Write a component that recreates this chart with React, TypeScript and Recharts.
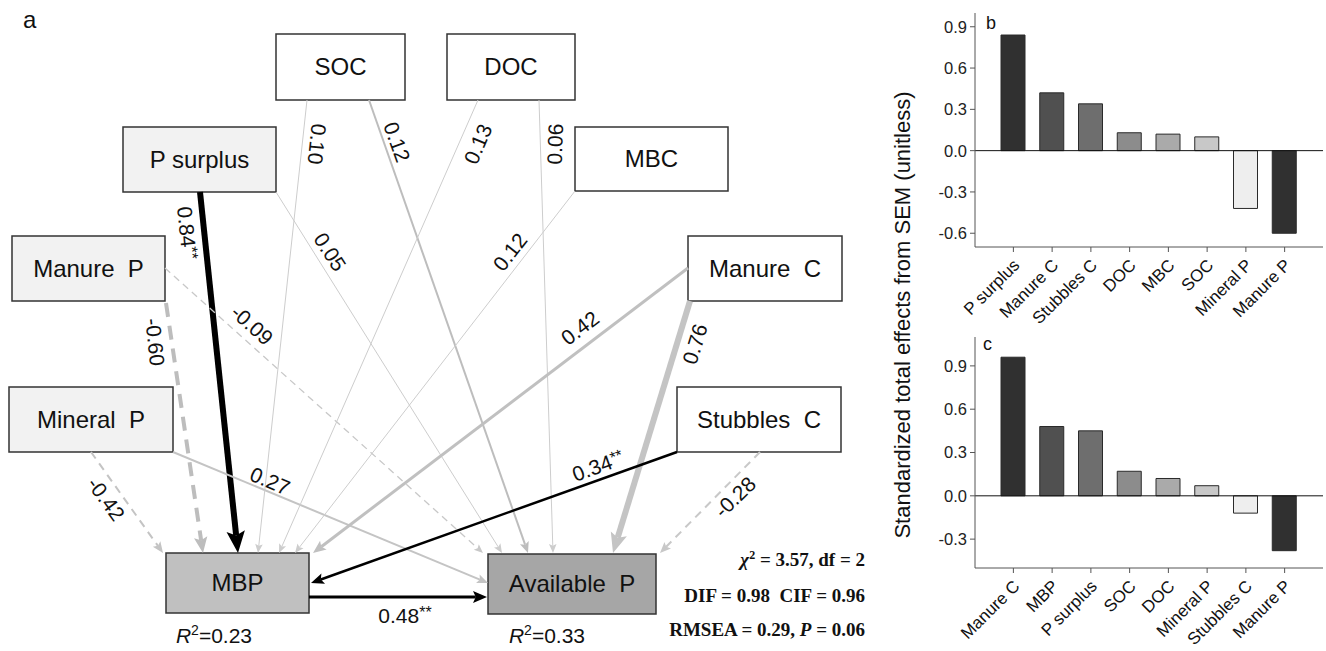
import React from 'react'
import {
  ScatterChart, Scatter, XAxis, YAxis, ReferenceArea, ReferenceLine,
  BarChart, Bar, Cell,
} from 'recharts'

const SANS = '"Liberation Sans", Arial, sans-serif'
const SERIF = '"Liberation Serif", "Times New Roman", serif'

// ---- panel a: path model ----
const nodeNames = ['SOC', 'DOC', 'P surplus', 'MBC', 'Manure P', 'Manure C', 'Mineral P', 'Stubbles C', 'MBP', 'Available P']

const pathFrom = ['P surplus', 'Manure P', 'Mineral P', 'Mineral P', 'Manure P', 'P surplus', 'SOC', 'SOC', 'DOC', 'DOC', 'MBC', 'Manure C', 'Manure C', 'Stubbles C', 'Stubbles C', 'MBP']
const pathTo = ['MBP', 'MBP', 'MBP', 'Available P', 'Available P', 'Available P', 'MBP', 'Available P', 'MBP', 'Available P', 'MBP', 'MBP', 'Available P', 'MBP', 'Available P', 'Available P']
const pathCoef = ['0.84**', '-0.60', '-0.42', '0.27', '-0.09', '0.05', '0.10', '0.12', '0.13', '0.06', '0.12', '0.42', '0.76', '0.34**', '-0.28', '0.48**']

const rSquared = ['0.23', '0.33'] // MBP, Available P
const fitStats = { chi2: '3.57', df: '2', dif: '0.98', cif: '0.96', rmsea: '0.29', p: '0.06' }

// ---- panels b and c: total effects ----
const mbpCategories = ['P surplus', 'Manure C', 'Stubbles C', 'DOC', 'MBC', 'SOC', 'Mineral P', 'Manure P']
const mbpEffects = [0.84, 0.42, 0.34, 0.13, 0.12, 0.1, -0.42, -0.6]
const mbpTicks = [-0.6, -0.3, 0, 0.3, 0.6, 0.9]

const availCategories = ['Manure C', 'MBP', 'P surplus', 'SOC', 'DOC', 'Mineral P', 'Stubbles C', 'Manure P']
const availEffects = [0.96, 0.48, 0.45, 0.17, 0.12, 0.07, -0.12, -0.38]
const availTicks = [-0.3, 0, 0.3, 0.6, 0.9]

// ---- layout (diagram units = pixels) ----
const nodeBoxes = [
  [276, 34, 405, 100], [447, 34, 575, 100], [123, 127, 276, 192], [575, 127, 728, 191],
  [12, 236, 165, 301], [688, 236, 842, 301], [9, 387, 173, 452], [677, 387, 841, 452],
  [166, 553, 309, 613], [488, 554, 656, 614],
]
const nodeFills = ['#fff', '#fff', '#f2f2f2', '#fff', '#f2f2f2', '#fff', '#f2f2f2', '#fff', '#c0c0c0', '#a6a6a6']

const pathEnds = [
  [200, 192, 238, 553], [166, 303, 203, 553], [91, 452, 163, 553], [173, 452, 488, 583],
  [165, 268, 483, 553], [276, 192, 502, 553], [307, 100, 258, 553], [369, 100, 528, 553],
  [478, 100, 279, 553], [539, 100, 553, 553], [575, 191, 295, 553], [688, 268, 313, 553],
  [690, 301, 613, 553], [677, 452, 311, 583], [760, 452, 660, 553], [309, 597, 487, 597],
]
const pathStyles = [
  { color: '#000', width: 6, head: 22, dash: '' },
  { color: '#bdbdbd', width: 4, head: 16, dash: '14 9' },
  { color: '#c4c4c4', width: 2, head: 11, dash: '8 6' },
  { color: '#c4c4c4', width: 2, head: 11, dash: '' },
  { color: '#c8c8c8', width: 1.3, head: 9, dash: '7 5' },
  { color: '#cdcdcd', width: 1, head: 9, dash: '' },
  { color: '#cdcdcd', width: 1, head: 9, dash: '' },
  { color: '#bdbdbd', width: 2, head: 11, dash: '' },
  { color: '#cdcdcd', width: 1, head: 9, dash: '' },
  { color: '#cdcdcd', width: 1, head: 9, dash: '' },
  { color: '#cdcdcd', width: 1, head: 9, dash: '' },
  { color: '#c0c0c0', width: 3, head: 13, dash: '' },
  { color: '#c4c4c4', width: 6, head: 20, dash: '' },
  { color: '#000', width: 2.5, head: 13, dash: '' },
  { color: '#c8c8c8', width: 2, head: 11, dash: '8 6' },
  { color: '#000', width: 3, head: 14, dash: '' },
]
const coefLabelPos = [
  [187, 233, 84], [155, 342, 84], [106, 499, 54], [270, 481, 23],
  [252, 325, 42], [330, 252, 57], [317, 144, 96], [397, 142, 70],
  [478, 144, -67], [555, 144, -88], [510, 252, -52], [580, 328, -37],
  [695, 344, -73], [598, 466, -20], [735, 497, -44], [405, 616, 0],
]
const rSquaredPos = [[214, 643], [547, 643]]
const statsPos = [[865, 566], [865, 602], [865, 636]]

const barShades = ['#303030', '#505050', '#6e6e6e', '#8c8c8c', '#aaaaaa', '#c8c8c8', '#eeeeee', '#303030']

const nodeIndex = (name: string) => nodeNames.indexOf(name)

function arrowShape(i: number) {
  const s = pathStyles[i]
  return (p: any) => {
    const { x1, y1, x2, y2 } = p
    const dx = x2 - x1
    const dy = y2 - y1
    const len = Math.hypot(dx, dy) || 1
    const ux = dx / len
    const uy = dy / len
    const L = s.head
    const W = s.head * 0.42
    const bx = x2 - ux * L
    const by = y2 - uy * L
    const nx = x2 - ux * L * 0.8
    const ny = y2 - uy * L * 0.8
    const pts = `${x2},${y2} ${bx - uy * W},${by + ux * W} ${nx},${ny} ${bx + uy * W},${by - ux * W}`
    return (
      <g>
        <line x1={x1} y1={y1} x2={nx} y2={ny} stroke={s.color} strokeWidth={s.width}
          strokeDasharray={s.dash || undefined} />
        <polygon points={pts} fill={s.color} />
      </g>
    )
  }
}

const nodeLabelData = nodeNames.map((name, i) => {
  const b = nodeBoxes[i]
  return { x: (b[0] + b[2]) / 2, y: (b[1] + b[3]) / 2, name }
})

const coefLabelData = pathCoef.map((coef, i) => ({
  x: coefLabelPos[i][0], y: coefLabelPos[i][1], angle: coefLabelPos[i][2], coef,
}))

const noteData = [
  { x: rSquaredPos[0][0], y: rSquaredPos[0][1], kind: 'r2', value: rSquared[0] },
  { x: rSquaredPos[1][0], y: rSquaredPos[1][1], kind: 'r2', value: rSquared[1] },
  { x: statsPos[0][0], y: statsPos[0][1], kind: 'chi' },
  { x: statsPos[1][0], y: statsPos[1][1], kind: 'fit' },
  { x: statsPos[2][0], y: statsPos[2][1], kind: 'rmsea' },
]

// names like "Manure P" are typeset with a wider gap before the last letter
const NodeLabel = (p: any) => (
  <text x={p.cx} y={p.cy} dy="0.35em" textAnchor="middle" fontSize={24} fill="#111" fontFamily={SANS}>
    {p.payload.name.replace(/ ([A-Z])$/, '\u00a0 $1')}
  </text>
)

const CoefLabel = (p: any) => {
  const { cx, cy, payload } = p
  const stars = payload.coef.endsWith('**')
  const num = stars ? payload.coef.slice(0, -2) : payload.coef
  return (
    <text x={cx} y={cy} dy="0.35em" textAnchor="middle" fontSize={21} fill="#111" fontFamily={SANS}
      transform={`rotate(${payload.angle} ${cx} ${cy})`}>
      {num}
      {stars && <tspan fontSize={16} dy={-5}>**</tspan>}
    </text>
  )
}

const Note = (p: any) => {
  const { cx, cy, payload } = p
  if (payload.kind === 'r2') {
    return (
      <text x={cx} y={cy} textAnchor="middle" fontSize={21} fill="#111" fontFamily={SANS}>
        <tspan fontStyle="italic">R</tspan>
        <tspan fontSize={14} dy={-8}>2</tspan>
        <tspan dy={8}>={payload.value}</tspan>
      </text>
    )
  }
  const common = { x: cx, y: cy, textAnchor: 'end' as const, fontSize: 19, fontWeight: 700, fill: '#111', fontFamily: SERIF }
  if (payload.kind === 'chi') {
    return (
      <text {...common}>
        <tspan fontStyle="italic">χ</tspan>
        <tspan fontSize={12} dy={-7}>2</tspan>
        <tspan dy={7}>{` = ${fitStats.chi2}, df = ${fitStats.df}`}</tspan>
      </text>
    )
  }
  if (payload.kind === 'fit') {
    return <text {...common}>{`DIF = ${fitStats.dif}\u00a0 CIF = ${fitStats.cif}`}</text>
  }
  return (
    <text {...common}>
      {`RMSEA = ${fitStats.rmsea}, `}
      <tspan fontStyle="italic">P</tspan>
      {` = ${fitStats.p}`}
    </text>
  )
}

function PathDiagram() {
  return (
    <ScatterChart width={880} height={651} margin={{ top: 0, right: 0, bottom: 0, left: 0 }}>
      <XAxis type="number" dataKey="x" domain={[0, 880]} allowDataOverflow hide />
      <YAxis type="number" dataKey="y" domain={[0, 651]} allowDataOverflow reversed hide />
      {nodeNames.map((name, i) => (
        <ReferenceArea key={name} x1={nodeBoxes[i][0]} y1={nodeBoxes[i][1]} x2={nodeBoxes[i][2]} y2={nodeBoxes[i][3]}
          fill={nodeFills[i]} fillOpacity={1} stroke="#333" strokeWidth={1.5} ifOverflow="visible" />
      ))}
      {pathCoef.map((_, i) => (
        <ReferenceLine key={`${pathFrom[i]}-${pathTo[i]}`}
          segment={[{ x: pathEnds[i][0], y: pathEnds[i][1] }, { x: pathEnds[i][2], y: pathEnds[i][3] }]}
          ifOverflow="visible" shape={arrowShape(i)}
          data-from={nodeIndex(pathFrom[i])} data-to={nodeIndex(pathTo[i])} />
      ))}
      <Scatter data={nodeLabelData} shape={NodeLabel} isAnimationActive={false} />
      <Scatter data={coefLabelData} shape={CoefLabel} isAnimationActive={false} />
      <Scatter data={noteData} shape={Note} isAnimationActive={false} />
    </ScatterChart>
  )
}

const RotTick = (props: any) => {
  const { x, y, payload } = props
  return (
    <g transform={`translate(${x + 3},${y + 8})`}>
      <text x={0} y={0} dy="0.35em" textAnchor="end" transform="rotate(-45)" fontSize={17} fill="#111" fontFamily={SANS}>
        {payload.value}
      </text>
    </g>
  )
}

function EffectChart({ categories, values, domain, ticks, top, marginTop, plotHeight, xAxisHeight }: {
  categories: string[]; values: number[]; domain: [number, number]; ticks: number[]
  top: number; marginTop: number; plotHeight: number; xAxisHeight: number
}) {
  const data = categories.map((name, i) => ({ name, value: values[i] }))
  return (
    <div style={{ position: 'absolute', left: 915, top }}>
      <BarChart width={411} height={marginTop + plotHeight + xAxisHeight} data={data}
        margin={{ top: marginTop, right: 3, bottom: 0, left: 0 }}>
        <XAxis dataKey="name" interval={0} padding={{ left: 19, right: 19 }} tick={<RotTick />}
          tickSize={5} height={xAxisHeight} axisLine={{ stroke: '#555' }} tickLine={{ stroke: '#555' }} />
        <YAxis type="number" domain={domain} ticks={ticks} allowDataOverflow width={60}
          tickFormatter={(v: number) => v.toFixed(1)} tickSize={5} tickMargin={3}
          tick={{ fontSize: 16.5, fill: '#222', fontFamily: SANS }} axisLine={{ stroke: '#555' }} tickLine={{ stroke: '#555' }} />
        <ReferenceLine y={0} stroke="#111" strokeWidth={1} />
        <Bar dataKey="value" barSize={24} stroke="#2a2a2a" strokeWidth={1} isAnimationActive={false}>
          {data.map((d, i) => <Cell key={d.name} fill={barShades[i]} />)}
        </Bar>
      </BarChart>
    </div>
  )
}

export default function App() {
  return (
    <div style={{ position: 'absolute', left: 0, top: 0, width: 1326, height: 651, background: '#fff', fontFamily: SANS, overflow: 'hidden' }}>
      <div style={{ position: 'absolute', left: 23, top: 6, fontSize: 24, color: '#111' }}>a</div>
      <div style={{ position: 'absolute', left: 0, top: 0 }}>
        <PathDiagram />
      </div>
      <EffectChart categories={mbpCategories} values={mbpEffects} domain={[-0.7, 1.0]} ticks={mbpTicks}
        top={0} marginTop={13} plotHeight={234} xAxisHeight={80} />
      <EffectChart categories={availCategories} values={availEffects} domain={[-0.5, 1.1]} ticks={availTicks}
        top={320} marginTop={17} plotHeight={231} xAxisHeight={82} />
      <div style={{ position: 'absolute', left: 986, top: 13, fontSize: 18, color: '#111' }}>b</div>
      <div style={{ position: 'absolute', left: 983, top: 334, fontSize: 18, color: '#111' }}>c</div>
      <div style={{
        position: 'absolute', left: 903, top: 315, fontSize: 22, color: '#111', whiteSpace: 'nowrap',
        transform: 'translate(-50%, -50%) rotate(-90deg)',
      }}>
        Standardized total effects from SEM (unitless)
      </div>
    </div>
  )
}
